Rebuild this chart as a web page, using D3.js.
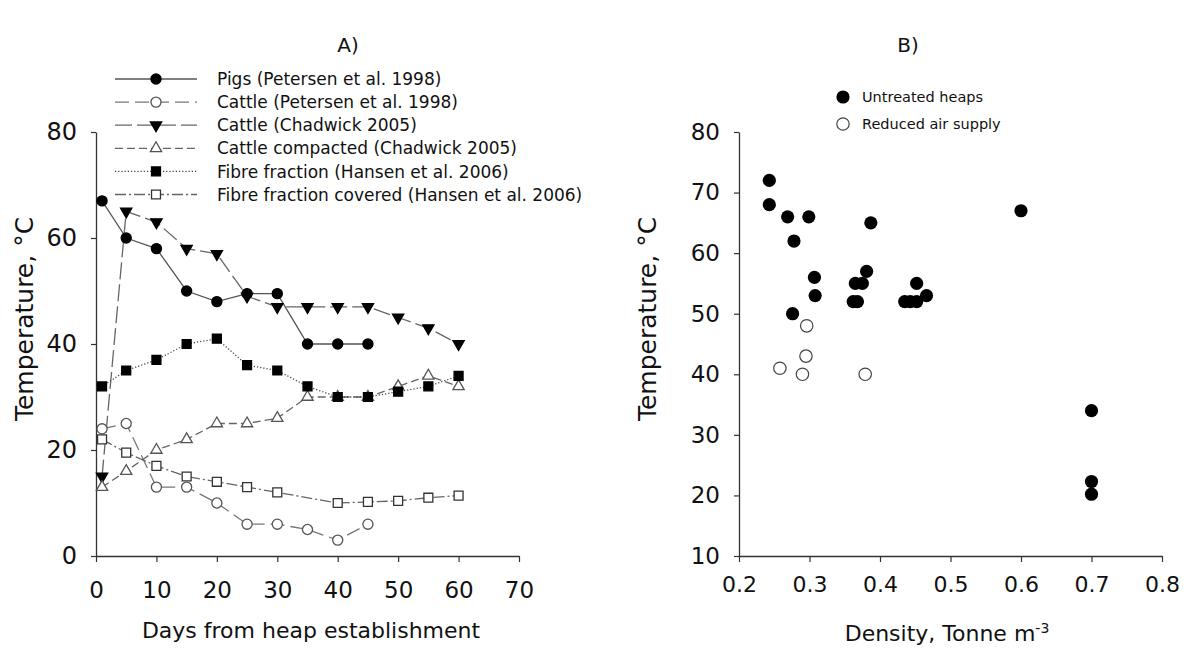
<html>
<head>
<meta charset="utf-8">
<style type="text/css">
  body {margin: 0; background: #fff;}
  text {font-family: "DejaVu Sans", sans-serif; fill: #111;}
</style>
</head>
<body>
<script src="https://d3js.org/d3.v7.min.js"></script>
<script>
// ---- panel A data: temperature vs days ----
var days     = [1, 5, 10, 15, 20, 25, 30, 35, 40, 45, 50, 55, 60];
var pigs     = [67, 60, 58, 50, 48, 49.5, 49.5, 40, 40, 40];
var cattleP  = [24, 25, 13, 13, 10, 6, 6, 5, 3, 6];
var cattleC  = [15, 65, 63, 58, 57, 49, 47, 47, 47, 47, 45, 43, 40];
var cattleCC = [13, 16, 20, 22, 25, 25, 26, 30, 30, 30, 32, 34, 32];
var fibre    = [32, 35, 37, 40, 41, 36, 35, 32, 30, 30, 31, 32, 34];
var coveredDays = [1, 5, 10, 15, 20, 25, 30, 40, 45, 50, 55, 60];
var covered  = [22, 19.5, 17, 15, 14, 13, 12, 10, 10.2, 10.4, 11, 11.4];
var seriesNames = ["Pigs (Petersen et al. 1998)", "Cattle (Petersen et al. 1998)",
                   "Cattle (Chadwick 2005)", "Cattle compacted (Chadwick 2005)",
                   "Fibre fraction (Hansen et al. 2006)", "Fibre fraction covered (Hansen et al. 2006)"];
var ticksA_x = [0, 10, 20, 30, 40, 50, 60, 70];
var ticksA_y = [0, 20, 40, 60, 80];

// ---- panel B data: temperature vs density ----
var untreatedDensity = [0.243, 0.243, 0.269, 0.299, 0.278, 0.387, 0.307, 0.308, 0.276,
                        0.365, 0.375, 0.381, 0.362, 0.368, 0.452, 0.435, 0.443, 0.452, 0.466,
                        0.6, 0.7, 0.7, 0.7];
var untreatedTemp    = [72, 68, 66, 66, 62, 65, 56, 53, 50,
                        55, 55, 57, 52, 52, 55, 52, 52, 52, 53,
                        67, 34, 22.3, 20.2];
var reducedDensity = [0.296, 0.295, 0.258, 0.29, 0.379];
var reducedTemp    = [48, 43, 41, 40, 40];
var ticksB_x = [0.2, 0.3, 0.4, 0.5, 0.6, 0.7, 0.8];
var ticksB_y = [10, 20, 30, 40, 50, 60, 70, 80];

var svg = d3.select("body").append("svg").attr("width", 1183).attr("height", 648);

// ================= panel A =================
var xA = d3.scaleLinear().domain([0, 70]).range([96, 519]);
var yA = d3.scaleLinear().domain([0, 80]).range([556, 132]);

function styleAxis(g, fs) {
  g.select(".domain").attr("stroke", "#333").attr("stroke-width", 1.3);
  g.selectAll(".tick line").attr("stroke", "#333").attr("stroke-width", 1.2);
  g.selectAll(".tick text").attr("font-size", fs).attr("fill", "#111")
    .attr("font-family", "DejaVu Sans, sans-serif");
}

var gxA = svg.append("g").attr("transform", "translate(0,556)")
  .call(d3.axisBottom(xA).tickValues(ticksA_x).tickSize(6).tickSizeOuter(0).tickPadding(20));
styleAxis(gxA, "23px");
var gyA = svg.append("g").attr("transform", "translate(96,0)")
  .call(d3.axisLeft(yA).tickValues(ticksA_y).tickSize(5).tickSizeOuter(0).tickPadding(14));
styleAxis(gyA, "24px");

var series = [
  {name: seriesNames[0], x: days, y: pigs,     dash: null,       color: "#555", sym: d3.symbolCircle,   size: 80, fill: "#000", stroke: "#000", rot: 0},
  {name: seriesNames[1], x: days, y: cattleP,  dash: "14,6",     color: "#777", sym: d3.symbolCircle,   size: 80, fill: "#fff", stroke: "#555", rot: 0},
  {name: seriesNames[2], x: days, y: cattleC,  dash: "17,5",     color: "#666", sym: d3.symbolTriangle, size: 55, fill: "#000", stroke: "#000", rot: 180},
  {name: seriesNames[3], x: days, y: cattleCC, dash: "8,4",      color: "#666", sym: d3.symbolTriangle, size: 55, fill: "#fff", stroke: "#555", rot: 0},
  {name: seriesNames[4], x: days, y: fibre,    dash: "1.2,2",    color: "#444", sym: d3.symbolSquare,   size: 80, fill: "#000", stroke: "#000", rot: 0},
  {name: seriesNames[5], x: coveredDays, y: covered, dash: "11,3,2,3", color: "#666", sym: d3.symbolSquare, size: 80, fill: "#fff", stroke: "#333", rot: 0}
];

var line = d3.line().x(function(d){ return xA(d[0]); }).y(function(d){ return yA(d[1]); });

series.forEach(function(s) {
  var pts = s.y.map(function(v, i){ return [s.x[i], v]; });
  s.pts = pts;
  svg.append("path").attr("d", line(pts)).attr("fill", "none")
    .attr("stroke", s.color).attr("stroke-width", 1.3)
    .attr("stroke-dasharray", s.dash);
});
series.forEach(function(s) {
  svg.selectAll(null).data(s.pts).enter().append("path")
    .attr("d", d3.symbol().type(s.sym).size(s.size))
    .attr("transform", function(d){ return "translate(" + xA(d[0]) + "," + yA(d[1]) + ") rotate(" + s.rot + ")"; })
    .attr("fill", s.fill).attr("stroke", s.stroke).attr("stroke-width", 1.3);
});

// legend A
var legA = svg.append("g");
series.forEach(function(s, i) {
  var ly = 79 + i * 23.1;
  legA.append("line").attr("x1", 115).attr("x2", 197).attr("y1", ly).attr("y2", ly)
    .attr("stroke", s.color).attr("stroke-width", 1.3).attr("stroke-dasharray", s.dash);
  legA.append("path").attr("d", d3.symbol().type(s.sym).size(s.size))
    .attr("transform", "translate(156," + ly + ") rotate(" + s.rot + ")")
    .attr("fill", s.fill).attr("stroke", s.stroke).attr("stroke-width", 1.3);
  legA.append("text").attr("x", 217).attr("y", ly).attr("dy", "0.36em")
    .attr("font-size", "17px").attr("fill", "#222").text(s.name);
});

svg.append("text").attr("x", 348).attr("y", 45).attr("dy", "0.36em").attr("text-anchor", "middle")
  .attr("font-size", "20px").text("A)");
svg.append("text").attr("transform", "translate(24,319) rotate(-90)").attr("dy", "0.36em")
  .attr("text-anchor", "middle").attr("font-size", "25px").attr("fill", "#222").text("Temperature, °C");
svg.append("text").attr("x", 311).attr("y", 630).attr("dy", "0.36em").attr("text-anchor", "middle")
  .attr("font-size", "22px").attr("fill", "#222").text("Days from heap establishment");

// ================= panel B =================
var xB = d3.scaleLinear().domain([0.2, 0.8]).range([739, 1162]);
var yB = d3.scaleLinear().domain([10, 80]).range([556, 132]);

var gxB = svg.append("g").attr("transform", "translate(0,556)")
  .call(d3.axisBottom(xB).tickValues(ticksB_x).tickFormat(d3.format(".1f")).tickSize(6).tickSizeOuter(0).tickPadding(14));
styleAxis(gxB, "22px");
var gyB = svg.append("g").attr("transform", "translate(739,0)")
  .call(d3.axisLeft(yB).tickValues(ticksB_y).tickSize(5).tickSizeOuter(0).tickPadding(14));
styleAxis(gyB, "23px");

svg.selectAll(null).data(untreatedDensity).enter().append("circle")
  .attr("cx", function(d){ return xB(d); })
  .attr("cy", function(d, i){ return yB(untreatedTemp[i]); })
  .attr("r", 6.6).attr("fill", "#000");
svg.selectAll(null).data(reducedDensity).enter().append("circle")
  .attr("cx", function(d){ return xB(d); })
  .attr("cy", function(d, i){ return yB(reducedTemp[i]); })
  .attr("r", 6.2).attr("fill", "#fff").attr("stroke", "#444").attr("stroke-width", 1.2);

// legend B
svg.append("circle").attr("cx", 843).attr("cy", 97).attr("r", 6.6).attr("fill", "#000");
svg.append("circle").attr("cx", 843).attr("cy", 124).attr("r", 6.2).attr("fill", "#fff")
  .attr("stroke", "#444").attr("stroke-width", 1.2);
svg.append("text").attr("x", 862).attr("y", 97).attr("dy", "0.36em").attr("font-size", "14.5px")
  .attr("fill", "#222").text("Untreated heaps");
svg.append("text").attr("x", 862).attr("y", 124).attr("dy", "0.36em").attr("font-size", "14.5px")
  .attr("fill", "#222").text("Reduced air supply");

svg.append("text").attr("x", 908).attr("y", 45).attr("dy", "0.36em").attr("text-anchor", "middle")
  .attr("font-size", "20px").text("B)");
svg.append("text").attr("transform", "translate(647,319) rotate(-90)").attr("dy", "0.36em")
  .attr("text-anchor", "middle").attr("font-size", "25px").attr("fill", "#222").text("Temperature, °C");
var xl = svg.append("text").attr("x", 947).attr("y", 633).attr("dy", "0.36em").attr("text-anchor", "middle")
  .attr("font-size", "22px").attr("fill", "#222");
xl.append("tspan").text("Density, Tonne m");
xl.append("tspan").attr("font-size", "14px").attr("dy", "-0.6em").text("-3");
</script>
</body>
</html>
